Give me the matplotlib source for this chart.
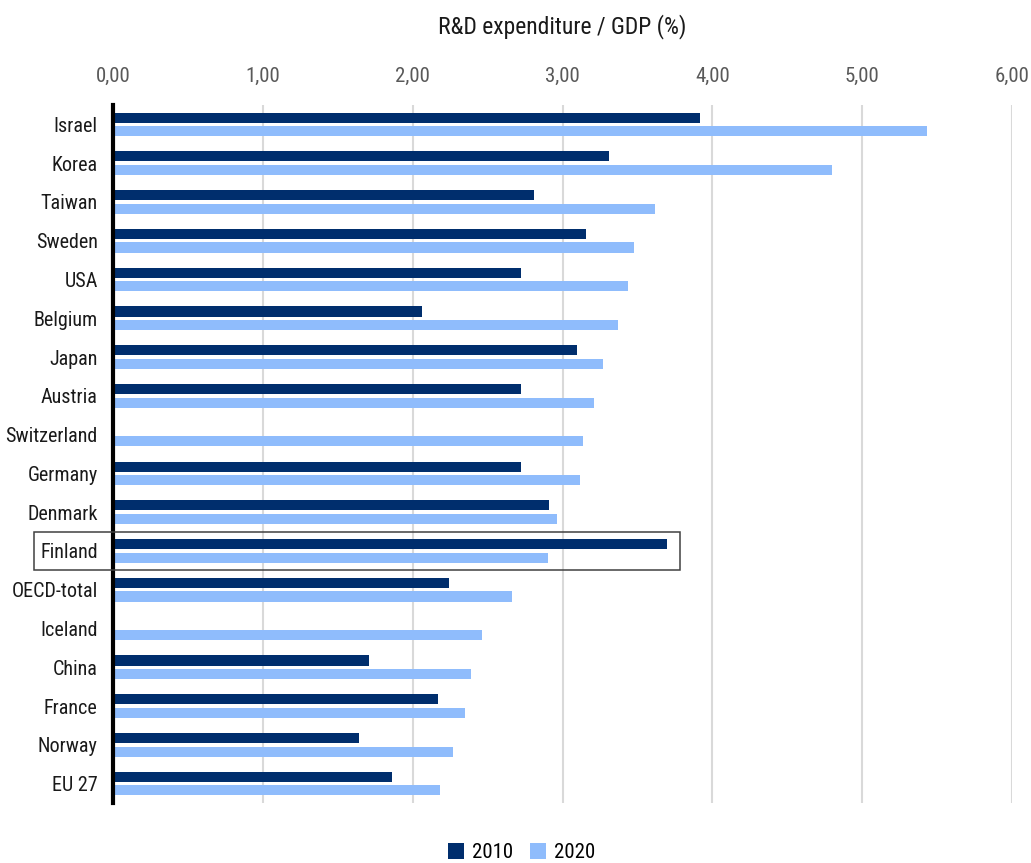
import numpy as np
import matplotlib
matplotlib.use("Agg")
import matplotlib.pyplot as plt
import matplotlib.transforms as mtransforms
from matplotlib.patches import Rectangle

plt.rcParams['font.family'] = ['Roboto Condensed', 'Open Sans Condensed', 'Liberation Sans', 'DejaVu Sans']

countries = ['Israel', 'Korea', 'Taiwan', 'Sweden', 'USA', 'Belgium', 'Japan', 'Austria',
             'Switzerland', 'Germany', 'Denmark', 'Finland', 'OECD-total', 'Iceland',
             'China', 'France', 'Norway', 'EU 27']
rd_2010 = [3.92, 3.31, 2.81, 3.16, 2.72, 2.06, 3.10, 2.72,
           np.nan, 2.72, 2.91, 3.70, 2.24, np.nan,
           1.71, 2.17, 1.64, 1.86]
rd_2020 = [5.43, 4.80, 3.62, 3.48, 3.44, 3.37, 3.27, 3.21,
           3.14, 3.12, 2.96, 2.90, 2.66, 2.46,
           2.39, 2.35, 2.27, 2.18]
years = ['2010', '2020']
highlight = 'Finland'

c2010 = '#002e6d'
c2020 = '#8fbcfc'

fig = plt.figure(figsize=(10.31, 8.63), dpi=100)
ax = fig.add_axes([0.1096, 0.0695, 0.872, 0.8088])

y = np.arange(len(countries))
h = 0.26
ax.barh(y - 0.175, rd_2010, height=h, color=c2010, label=years[0], zorder=3)
ax.barh(y + 0.175, rd_2020, height=h, color=c2020, label=years[1], zorder=3)

ax.set_ylim(len(countries) - 0.5, -0.5)
ax.set_xlim(0, 6)
ax.set_yticks(y)
ax.set_yticklabels(countries, fontsize=14.5, color='#1a1a1a')
ax.set_xticks(np.arange(0, 7, 1))
ax.set_xticklabels([f'{v:.2f}'.replace('.', ',') for v in np.arange(0, 7, 1)],
                   fontsize=15, color='#595959')
ax.xaxis.tick_top()
ax.xaxis.set_label_position('top')
ax.set_xlabel('R&D expenditure / GDP (%)', fontsize=17, color='#1a1a1a', labelpad=24)
ax.tick_params(axis='both', length=0)
ax.tick_params(axis='x', pad=14)
ax.tick_params(axis='y', pad=11)

ax.grid(axis='x', color='#d9d9d9', linewidth=1.5, zorder=0)
for s in ['top', 'right', 'bottom']:
    ax.spines[s].set_visible(False)
ax.spines['left'].set_linewidth(3)
ax.spines['left'].set_color('black')
ax.spines['left'].set_zorder(4)

# box around Finland
i = countries.index(highlight)
trans = mtransforms.blended_transform_factory(ax.transAxes, ax.transData)
box = Rectangle((-0.088, i - 0.5), 0.719, 1.0, transform=trans, fill=False,
                edgecolor='#404040', linewidth=1.1, clip_on=False, zorder=5)
ax.add_patch(box)

fig.legend(loc='center', bbox_to_anchor=(0.506, 0.012), ncol=2, frameon=False,
           fontsize=15, handlelength=0.75, handleheight=0.75, handletextpad=0.4,
           columnspacing=0.8)

fig.savefig('out.png', dpi=100)
